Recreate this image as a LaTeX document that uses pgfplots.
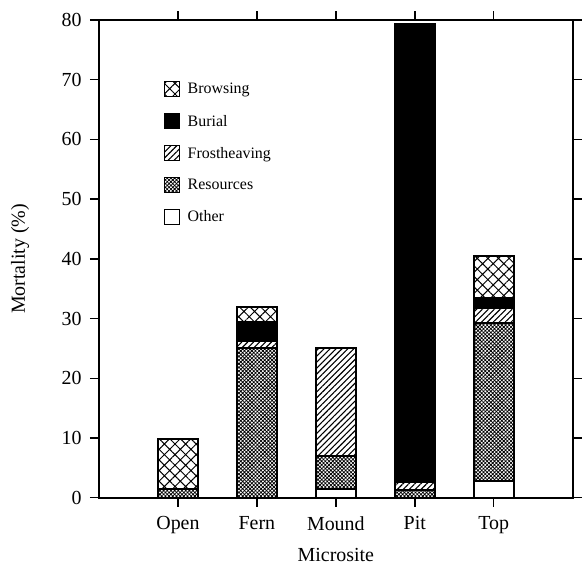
\documentclass[border=0pt]{standalone}
\usepackage{fontspec}
\setmainfont{Liberation Serif}
\usepackage{pgfplots}
\pgfplotsset{compat=1.18}
\usetikzlibrary{patterns.meta,calc}
\pgfplotsset{
  mylegend/.style={legend image code/.code={\draw[##1,line width=1.1bp] (0bp,-7.5bp) rectangle (15bp,7.5bp);}},
}
\begin{document}
\begin{tikzpicture}
\begin{axis}[
  scale only axis, width=473.7bp, height=477.7bp,
  xmin=-1, xmax=5, ymin=0, ymax=80,
  ybar stacked, bar width=40bp,
  xtick={0,1,2,3,4}, xticklabels={Open,Fern,Mound,Pit,Top},
  ytick={0,10,...,80},
  tick align=outside, tick pos=both,
  major tick length=9bp,
  every tick/.style={black, line width=1.5bp},
  axis line style={line width=1.8bp},
  ticklabel style={font=\fontsize{20}{23}\selectfont},
  xticklabel style={yshift=-6bp},
  yticklabel style={xshift=-5bp},
  /pgf/number format/assume math mode=true,
  xlabel={Microsite}, ylabel={Mortality (\%)},
  every axis x label/.style={at={(rel axis cs:0.5,0)}, yshift=-57.5bp, anchor=center, font=\fontsize{20}{23}\selectfont},
  every axis y label/.style={at={(rel axis cs:0,0.5)}, xshift=-79bp, rotate=90, anchor=center, font=\fontsize{20}{23}\selectfont},
  legend style={draw=none, fill=none, at={(0.137,0.872)}, anchor=north west,
    font=\fontsize{16}{18}\selectfont, row sep=15.5bp, inner sep=0pt},
  legend cell align=left,
  legend style={nodes={inner xsep=7.5bp}},
  reverse legend,
]
\coordinate (sw) at (rel axis cs:0,0);
% Other
\addplot[draw=black, line width=2bp, fill=white, mylegend] coordinates {(0,0) (1,0) (2,1.5) (3,0) (4,2.8)};
% Resources
\addplot[draw=black, line width=2bp, pattern={Hatch[angle=45,distance=2.6bp,line width=0.75bp]}, mylegend] coordinates {(0,1.4) (1,25.0) (2,5.5) (3,1.3) (4,26.5)};
% Frostheaving
\addplot[draw=black, line width=2bp, pattern={Lines[angle=45,distance=4.2bp,line width=1.1bp]}, mylegend] coordinates {(0,0) (1,1.2) (2,18.1) (3,1.4) (4,2.4)};
% Burial
\addplot[draw=black, line width=2bp, fill=black, mylegend] coordinates {(0,0) (1,3.3) (2,0) (3,76.7) (4,1.7)};
% Browsing
\addplot[draw=black, line width=2bp, pattern={Hatch[angle=45,distance=7.5bp,line width=1bp]}, mylegend] coordinates {(0,8.5) (1,2.5) (2,0) (3,0) (4,7.1)};
\legend{Other,Resources,Frostheaving,Burial,Browsing}
\end{axis}
\pgfresetboundingbox
\path[use as bounding box] ($(sw)+(-99bp,-68.3bp)$) rectangle ($(sw)+(488bp,497.7bp)$);
\end{tikzpicture}
\end{document}
